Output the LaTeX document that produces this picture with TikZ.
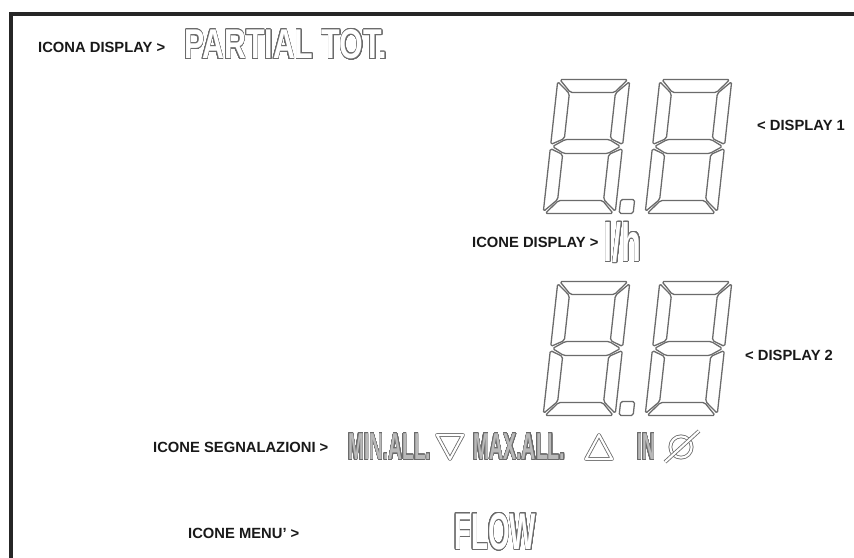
\documentclass[tikz,border=0pt]{standalone}
\usepackage{fontspec}
\setmainfont{Liberation Sans}
\usepackage{contour}
\usetikzlibrary{positioning}
\contourlength{0.8pt}
\contournumber{32}
\definecolor{segline}{gray}{0.42}
\definecolor{lbltext}{gray}{0.1}
\tikzset{
  caption/.style={font=\bfseries\fontsize{12.6}{13}\selectfont, text=lbltext, inner sep=0pt},
  lcd/.style={inner sep=0pt},
  segment/.style={draw=segline, line width=1.1pt, rounded corners=1.5pt, line join=round},
  hollow/.style={draw=segline, line width=0.7pt, double=white, double distance=1.8pt, line join=round},
  frame/.style={draw=black!85, line width=3pt}
}
% outlined lcd lettering: [fill]{xscale}{size}{text}
\newcommand{\lcdtext}[4][white]{\scalebox{#2}[1]{\bfseries\fontsize{#3}{#3}\selectfont\color{#1}\contour{segline}{#4}}}
% one seven segment digit, origin at middle left
\newcommand{\lcddigit}[2]{%
  \begin{scope}[shift={(#1,#2)}, xslant=0.11]
    \draw[segment] (2,-67) -- (70,-67) -- (58,-54) -- (14,-54) -- cycle;
    \draw[segment] (0,-65) -- (13,-53) -- (13,-8) -- (0,-2) -- cycle;
    \draw[segment] (72,-65) -- (59,-53) -- (59,-8) -- (72,-2) -- cycle;
    \draw[segment] (2,0) -- (14,-7) -- (58,-7) -- (70,0) -- (58,7) -- (14,7) -- cycle;
    \draw[segment] (0,2) -- (13,8) -- (13,53) -- (0,65) -- cycle;
    \draw[segment] (72,2) -- (59,8) -- (59,53) -- (72,65) -- cycle;
    \draw[segment] (2,67) -- (70,67) -- (58,54) -- (14,54) -- cycle;
  \end{scope}}
\newcommand{\lcddot}[2]{%
  \begin{scope}[shift={(#1,#2)}, xslant=0.11]
    \draw[segment] (76,53) rectangle (90,67);
  \end{scope}}

\begin{document}
\begin{tikzpicture}[x=0.03cm, y=-0.03cm]

  \useasboundingbox (0,0) rectangle (854,558);
  \fill[white] (0,0) rectangle (854,558);
  \draw[frame] (11,558) -- (11,14) -- (854,14);

  % top icon
  \node (iconalbl) [caption, anchor=west] at (38,47) {ICONA DISPLAY >};
  \node (partial) [lcd, anchor=west] at (184,45) {\lcdtext{0.73}{35.5}{PARTIAL TOT.}};

  % display 1
  \lcddigit{550.5}{146.5}
  \lcddot{550.5}{146.5}
  \lcddigit{652.5}{146.5}
  \node (disp1) [caption, anchor=west] at (757,125) {< DISPLAY 1};

  \node (iconelbl) [caption, anchor=west] at (472,242) {ICONE DISPLAY >};
  \node (unit) [lcd, right=0.15cm of iconelbl, yshift=-0.5pt] {\lcdtext{0.6}{46}{l/h}};

  % display 2
  \lcddigit{550.5}{348.5}
  \lcddot{550.5}{348.5}
  \lcddigit{652.5}{348.5}
  \node (disp2) [caption, anchor=west] at (745,355) {< DISPLAY 2};

  % alarm icons
  \node (alarmlbl) [caption, anchor=west] at (153,447) {ICONE SEGNALAZIONI >};
  \node (minall) [lcd, anchor=west] at (348,447) {\lcdtext[gray!55]{0.51}{32}{MIN.ALL.}};
  \draw[hollow] (437,435) -- (463,435) -- (450,459) -- cycle;
  \node (maxall) [lcd, anchor=west] at (473,447) {\lcdtext[gray!55]{0.52}{32}{MAX.ALL.}};
  \draw[hollow] (586,459) -- (612,459) -- (599,435) -- cycle;
  \node (inlet) [lcd, anchor=west] at (637,447) {\lcdtext[gray!55]{0.48}{32}{IN}};
  \draw[hollow] (681,447) circle [radius=0.32cm];
  \draw[hollow] (665,462) -- (699,431);

  % menu icon
  \node (menulbl) [caption, anchor=west] at (188,533) {ICONE MENU' >};
  \node (flow) [lcd, anchor=west] at (454,532) {\lcdtext{0.54}{44}{FLOW}};

\end{tikzpicture}
\end{document}
